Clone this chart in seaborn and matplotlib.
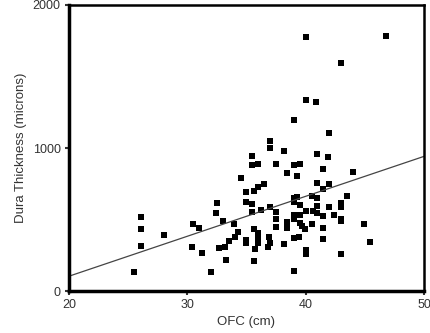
import numpy as np
import pandas as pd
import matplotlib
matplotlib.use("Agg")
import matplotlib.pyplot as plt
import seaborn as sns

# OFC (cm) and dura thickness (microns)
ofc = [40.0, 46.8, 43.0, 40.0, 40.9,
       39.0, 37.0, 37.0, 38.2, 35.5, 35.5, 36.0, 37.5, 39.0, 39.5,
       38.45, 39.3, 34.5, 36.5, 36.0, 35.6, 35.0, 39.0, 39.3, 40.5,
       42.0, 41.0, 41.9, 41.5, 44.0, 41.0, 42.0, 41.5, 41.0, 43.5,
       35.0, 35.5, 35.5, 36.2, 37.0, 37.5, 37.5, 37.5, 39.0, 39.5,
       39.0, 39.0, 39.5, 40.0, 40.65, 38.4, 38.4, 39.5, 39.7, 39.95,
       40.5, 33.95, 34.3, 35.6, 36.0, 36.0, 36.0, 36.9, 37.0, 36.8,
       38.15, 39.0, 39.4, 34.0, 33.5, 35.0, 35.0, 35.7, 33.2, 40.0,
       40.0, 33.3, 35.6, 39.0,
       41.0, 42.0, 42.95, 42.95, 41.0, 41.5, 42.4, 42.95, 42.95, 41.5,
       44.9, 41.5, 45.4, 42.95,
       32.5, 32.4, 33.0, 30.5, 31.0, 28.0, 26.06, 26.06, 26.1, 30.4,
       31.2, 32.7, 32.0, 25.5]
dura = [1778, 1783, 1597, 1336, 1320,
        1196, 1051, 998, 979, 946, 879, 890, 886, 879, 890,
        823, 806, 790, 748, 727, 701, 692, 652, 659, 664,
        1107, 958, 939, 853, 834, 757, 748, 711, 648, 664,
        624, 608, 555, 564, 590, 555, 501, 445, 624, 604,
        531, 501, 531, 562, 562, 483, 441, 478, 455, 431,
        469, 469, 413, 431, 403, 369, 338, 380, 338, 310,
        331, 369, 376, 376, 352, 357, 334, 292, 310, 287,
        259, 217, 210, 142,
        594, 585, 613, 585, 548, 524, 529, 506, 492, 441,
        469, 366, 345, 259,
        617, 548, 492, 469, 441, 394, 515, 436, 317, 306,
        264, 299, 131, 135]

x_ticks = [20, 30, 40, 50]
y_ticks = [0, 1000, 2000]

df = pd.DataFrame({"OFC": ofc, "Dura": dura})

sns.set_style("white")
plt.rcParams["font.family"] = ["Liberation Sans", "DejaVu Sans"]

fig = plt.figure(figsize=(4.30, 3.33), dpi=100)
ax = fig.add_axes([0.1605, 0.126, 0.8255, 0.859])
ax.set_xlim(20, 50)
ax.set_ylim(0, 2000)

# least-squares fit line across the full x range
sns.regplot(data=df, x="OFC", y="Dura", ax=ax, ci=None, truncate=False,
            marker="s",
            scatter_kws={"s": 15, "color": "black", "linewidths": 0, "alpha": 1},
            line_kws={"color": "#444444", "linewidth": 0.9})

ax.set_xlim(20, 50)
ax.set_ylim(0, 2000)
ax.set_xticks(x_ticks)
ax.set_yticks(y_ticks)
ax.set_xlabel("OFC (cm)", fontsize=9.5, color="#333333", labelpad=3)
ax.set_ylabel("Dura Thickness (microns)", fontsize=9.5, color="#333333", labelpad=4)
ax.tick_params(axis="both", labelsize=9, colors="#333333", length=3, width=1.5,
               direction="out", pad=3)
ax.tick_params(bottom=True, left=True)

for side in ["left", "bottom"]:
    ax.spines[side].set_linewidth(2.5)
    ax.spines[side].set_color("black")
for side in ["top", "right"]:
    ax.spines[side].set_visible(True)
    ax.spines[side].set_linewidth(1.8)
    ax.spines[side].set_color("black")

fig.savefig("out.png", dpi=100)
